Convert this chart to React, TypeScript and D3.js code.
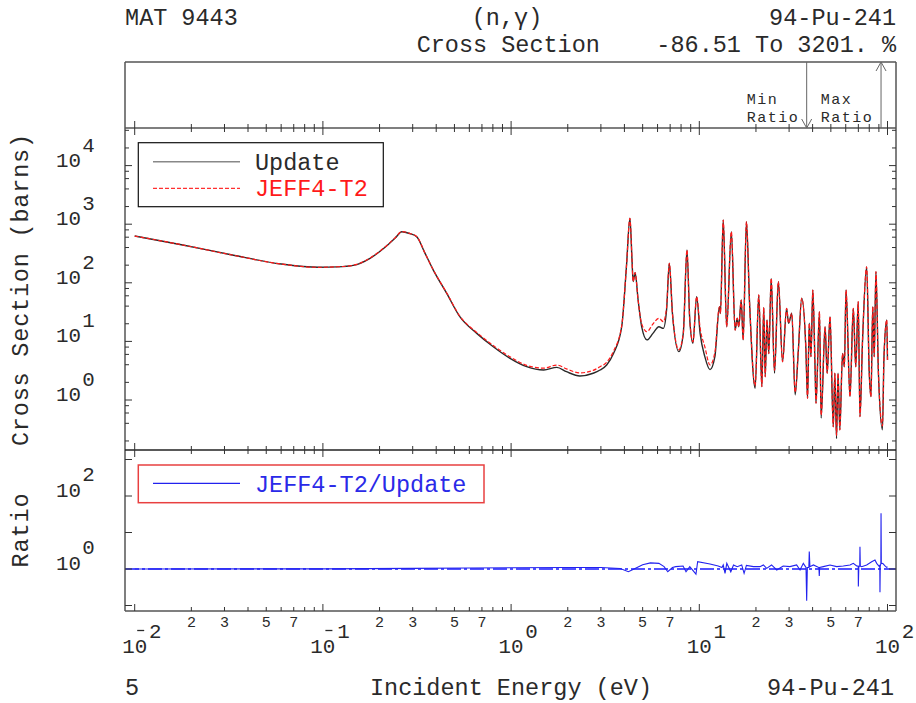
import React from 'react';
import * as d3 from 'd3';

// ---------- data ----------
const energy = [
  0.01, 0.018, 0.033, 0.06, 0.095, 0.12, 0.145, 0.178, 0.214, 0.242, 0.263, 0.29, 0.315, 0.349, 0.386, 0.455, 0.534, 0.657, 0.804, 0.987,
  1.21, 1.49, 1.75, 1.97, 2.32, 2.73, 2.97, 3.22, 3.5, 3.87, 4.1, 4.28, 4.39, 4.45, 4.56, 4.73, 4.94,
  5.27, 5.67, 6.1, 6.44, 6.7, 6.93, 7.2, 7.79, 8.22, 8.6, 8.9, 9.25, 9.68, 10.1, 10.7, 11.4, 12.1, 12.8, 12.95,
  13.4, 13.98, 14.8, 15.5, 15.9, 16.2, 16.7, 17.1, 17.8, 18.5, 19.8, 20.7, 21.5, 22.0, 22.4, 22.9, 23.4, 24.1,
  25.1, 26.3, 27.7, 29.1, 29.8, 31.0, 32.3, 33.6, 35.0, 36.8, 37.6, 38.4, 39.2, 40.1, 41.2, 41.7, 43.5, 44.4,
  46.6, 47.8, 49.5, 51.5, 52.5, 53.6, 54.6, 55.8, 57.7, 59.0, 60.2, 63.2, 65.8, 67.8, 69.9, 71.4, 73.7, 77.5,
  80.0, 81.7, 83.5, 85.0, 86.8, 89.5, 94.0, 95.8, 99.1, 100,
];
const update = [
  628, 442, 298, 209, 184, 187, 198, 262, 405, 580, 745, 690, 612, 318, 165, 66, 26.4, 13.7, 8.1, 5.14,
  3.7, 3.25, 3.61, 3.04, 2.57, 2.86, 3.25, 3.96, 6.2, 17.8, 188, 1260, 245, 105, 149, 50.9, 17.8,
  10.6, 13.7, 17.8, 16.7, 34.3, 215, 30, 6.7, 13.7, 363, 23.2, 9.3, 58, 13.7, 5.5, 3.3, 5.5, 39, 30,
  1178, 17.8, 745, 15.6, 24.8, 17.8, 50.9, 10.6, 1104, 44.7, 1.58, 62, 1.69, 38, 2.5, 23.2, 6.2, 119,
  2.86, 105, 4.5, 36.6, 20.4, 30.2, 1.22, 7.1, 54.4, 8.1, 1.07, 20.4, 5.5, 75.4, 3.7, 0.88, 32.1, 0.49,
  17.8, 2.86, 26.4, 0.35, 2.86, 0.22, 2.86, 0.31, 6.2, 3.7, 75.4, 1.14, 36.6, 3.7, 47.6, 0.52, 10.6, 188,
  2.86, 1.14, 39, 5.5, 155, 2.86, 0.31, 5.5, 23.2, 4.8,
];
const jeff = [
  628, 442, 298, 209, 184, 188, 199, 264, 409, 585, 750, 695, 616, 320, 166, 67, 27, 14.2, 8.5, 5.45,
  3.9, 3.5, 3.95, 3.4, 2.9, 3.2, 3.7, 4.4, 6.8, 18.5, 188, 1260, 245, 105, 149, 50.9, 20,
  14.6, 19.8, 24.8, 21.7, 38, 215, 30, 7.2, 13.7, 363, 23.2, 9.8, 58, 17, 8.1, 3.96, 6.5, 39, 30,
  1178, 17.8, 745, 15.6, 24.8, 17.8, 50.9, 10.6, 1104, 44.7, 1.75, 62, 1.69, 38, 2.5, 23.2, 6.2, 119,
  3.2, 105, 4.5, 36.6, 20.4, 30.2, 1.35, 7.1, 54.4, 8.1, 1.07, 20.4, 5.5, 75.4, 3.7, 0.88, 32.1, 0.55,
  17.8, 2.86, 26.4, 0.35, 2.86, 0.25, 2.86, 0.31, 6.2, 3.7, 75.4, 1.14, 36.6, 3.7, 47.6, 0.52, 10.6, 188,
  2.86, 1.14, 39, 5.5, 155, 2.86, 0.36, 5.5, 23.2, 4.8,
];
const ratioEnergy = [
  0.01, 0.1, 0.3, 0.6, 1.0, 2.0, 3.0, 3.8, 4.2, 4.5, 5.0, 5.5, 6.1, 6.5, 6.8, 7.2, 7.5, 8.2, 8.5, 8.9, 9.6, 9.8,
  11.4, 12.6, 13.2, 13.4, 13.7, 14.0, 14.7, 15.2, 15.9, 16.8, 17.3, 17.8, 19.4, 21.0, 21.9, 22.8, 24.2, 25.8,
  27.9, 30.3, 32.9, 34.3, 35.7, 36.9, 37.2, 37.5, 38.2, 38.4, 38.7, 40.4, 43.2, 43.4, 43.6, 45.6, 49.5, 53.7,
  58.2, 63.2, 65.8, 68.6, 69.9, 70.0, 70.4, 71.2, 71.4, 71.7, 72.9, 77.5, 82.4, 85.8, 87.6, 90.5, 91.0, 91.2,
  91.5, 92.2, 92.4, 92.7, 94.3, 97.0, 99.0, 100,
];
const ratio = [
  1.0, 1.01, 1.04, 1.07, 1.08, 1.1, 1.1, 1.03, 0.84, 1.0, 1.3, 1.47, 1.43, 1.16, 0.84, 1.1, 1.16, 1.21, 0.84, 1.16, 0.72, 1.58,
  1.37, 1.21, 1.1, 1.29, 0.76, 1.43, 0.84, 1.29, 1.16, 1.29, 0.76, 1.25, 1.16, 1.16, 1.29, 1.04, 1.29, 0.94,
  1.21, 1.16, 1.29, 0.94, 1.43, 1.1, 0.135, 1.1, 1.1, 3.0, 1.16, 1.29, 1.1, 0.64, 1.1, 1.16, 1.29, 1.16,
  1.21, 1.29, 1.43, 1.21, 1.2, 0.33, 1.16, 1.2, 4.08, 1.2, 1.16, 1.29, 1.58, 1.76, 1.43, 1.16, 1.3, 0.23,
  1.2, 1.4, 33.5, 1.4, 1.43, 1.21, 1.11, 1.15,
];
const minRatioEnergy = 37.2;
const maxRatioEnergy = 92.4;

const xDecades = [-2, -1, 0, 1, 2];
const xMinorLabels = [2, 3, 5, 7];
const mainYLabelExps = [0, 1, 2, 3, 4];
const ratioYLabelExps = [0, 2];
const seriesNames = ['Update', 'JEFF4-T2'];
const ratioName = 'JEFF4-T2/Update';
const headerLeft = 'MAT 9443';
const headerMid = '(n,γ)';
const headerRight = '94-Pu-241';
const headerLine2 = 'Cross Section    -86.51 To 3201. %';
const footerLeft = '5';
const xTitle = 'Incident Energy (eV)';
const yTitle = 'Cross Section (barns)';
const yRatioTitle = 'Ratio';

// ---------- layout ----------
const W = 916, H = 703;
const L = 125, R = 896;
const topT = 62, mainT = 128, mainB = 450, ratB = 611;
const FONT = "Liberation Mono, DejaVu Sans Mono, monospace";
const INK = '#2a2a2a';
const FRAME = '#555';

const x = d3.scaleLog().domain([0.01, 100]).range([134.7, 887.5]);
const yMain = d3.scaleLog().domain([1, 1e4]).range([400, 165.6]);
const yRat = d3.scaleLog().domain([1, 100]).range([569, 496]);

function Mono({ x0, y0, text, pitch = 14.1, anchor = 'start', size, fill = INK }: any) {
  const chars = Array.from(text as string);
  const total = chars.length * pitch;
  const start = anchor === 'start' ? x0 : anchor === 'end' ? x0 - total : x0 - total / 2;
  const xs = chars.map((_, i) => (start + pitch * (i + 0.5)).toFixed(1)).join(' ');
  const fs = size ?? pitch / 0.6;
  return (
    <text x={xs} y={y0} textAnchor="middle" fontSize={fs} fill={fill} fontFamily={FONT}
      xmlSpace="preserve" style={{ whiteSpace: 'pre' }}>{text}</text>
  );
}

function xTickValues() {
  const out: { v: number; major: boolean }[] = [];
  for (let d = -2; d < 2; d++) {
    for (let m = 1; m <= 9; m++) out.push({ v: m * Math.pow(10, d), major: m === 1 });
  }
  out.push({ v: 100, major: true });
  return out;
}

function mainYTickValues() {
  const out: { v: number; major: boolean }[] = [];
  for (let d = -1; d <= 4; d++) {
    out.push({ v: Math.pow(10, d), major: true });
    for (const m of [2, 4, 6, 8]) out.push({ v: m * Math.pow(10, d), major: false });
  }
  return out.filter(t => yMain(t.v) > mainT + 1 && yMain(t.v) < mainB - 1);
}

export default function App() {
  const ptsU = energy.map((e, i) => [e, update[i]] as [number, number]);
  const ptsJ = energy.map((e, i) => [e, jeff[i]] as [number, number]);
  const ptsR = ratioEnergy.map((e, i) => [e, ratio[i]] as [number, number]);
  const lineMain = d3.line<[number, number]>().x(d => x(d[0])).y(d => yMain(d[1])).curve(d3.curveMonotoneX);
  const lineRat = d3.line<[number, number]>().x(d => x(d[0])).y(d => yRat(d[1]));
  const xt = xTickValues();
  const yt = mainYTickValues();
  const rt = [-1, 0, 1, 2, 3].map(e => Math.pow(10, e));
  const xMin = x(minRatioEnergy), xMax = x(maxRatioEnergy);

  return (
    <svg width={W} height={H} style={{ position: 'absolute', left: 0, top: 0, background: '#fff' }}>
      <defs>
        <clipPath id="cm"><rect x={L} y={mainT} width={R - L} height={mainB - mainT} /></clipPath>
        <clipPath id="cr"><rect x={L} y={mainB} width={R - L} height={ratB - mainB} /></clipPath>
      </defs>
      <rect x={0} y={0} width={W} height={H} fill="#fff" />

      {/* header */}
      <Mono x0={L} y0={25} text={headerLeft} />
      <Mono x0={507} y0={25} text={headerMid} anchor="middle" />
      <Mono x0={R} y0={25} text={headerRight} anchor="end" />
      <Mono x0={R} y0={52} text={headerLine2} anchor="end" />

      {/* curves */}
      <g clipPath="url(#cm)">
        <path d={lineMain(ptsU) || ''} fill="none" stroke="#2a2a2a" strokeWidth={1.4} />
        <path d={lineMain(ptsJ) || ''} fill="none" stroke="#ff1a1a" strokeWidth={1.2} strokeDasharray="4 2" />
      </g>
      <g clipPath="url(#cr)">
        <line x1={L} x2={R} y1={yRat(1)} y2={yRat(1)} stroke="#1a1aff" strokeWidth={1.3} strokeDasharray="14 3 3 3" />
        <path d={lineRat(ptsR) || ''} fill="none" stroke="#2222ee" strokeWidth={1.1} />
      </g>

      {/* frame */}
      <g stroke={FRAME} strokeWidth={1.5} fill="none">
        <line x1={L} x2={L} y1={topT} y2={ratB} />
        <line x1={R} x2={R} y1={topT} y2={ratB} />
        <line x1={L} x2={R} y1={topT} y2={topT} />
        <line x1={L} x2={R} y1={mainT} y2={mainT} />
        <line x1={L} x2={R} y1={mainB} y2={mainB} stroke="#222" />
        <line x1={L} x2={R} y1={ratB} y2={ratB} />
      </g>

      {/* x ticks */}
      <g stroke="#333" strokeWidth={1}>
        {xt.map((t, i) => {
          const px = x(t.v);
          const len = t.major ? 7 : 4;
          return (
            <g key={i}>
              <line x1={px} x2={px} y1={mainT - len} y2={mainT + len} />
              <line x1={px} x2={px} y1={mainB - len} y2={mainB + len} />
              <line x1={px} x2={px} y1={ratB - len} y2={ratB} />
            </g>
          );
        })}
      </g>

      {/* y ticks */}
      <g stroke="#333" strokeWidth={1}>
        {yt.map((t, i) => {
          const py = yMain(t.v);
          const len = t.major ? 7 : 4;
          return (
            <g key={i}>
              <line x1={L} x2={L + len} y1={py} y2={py} />
              <line x1={R - len} x2={R} y1={py} y2={py} />
            </g>
          );
        })}
        {rt.map((v, i) => {
          const py = yRat(v);
          return (
            <g key={'r' + i}>
              <line x1={L} x2={L + 7} y1={py} y2={py} />
              <line x1={R - 7} x2={R} y1={py} y2={py} />
            </g>
          );
        })}
      </g>

      {/* x tick labels */}
      {xDecades.map(d => {
        const px = x(Math.pow(10, d));
        const exp = String(Math.abs(d));
        return (
          <g key={d}>
            <Mono x0={px} y0={653} text="10" pitch={12.5} anchor="middle" />
            {d < 0 && <line x1={px + 2.5} x2={px + 9.5} y1={630.5} y2={630.5} stroke={INK} strokeWidth={1.3} />}
            <Mono x0={px + 20.5} y0={638} text={exp} pitch={12.5} anchor="middle" />
          </g>
        );
      })}
      {[-2, -1, 0, 1].map(d =>
        xMinorLabels.map(m => (
          <Mono key={d + '_' + m} x0={x(m * Math.pow(10, d))} y0={627} text={String(m)} pitch={9} anchor="middle" size={15} />
        ))
      )}

      {/* y tick labels */}
      {mainYLabelExps.map(e => {
        const py = yMain(Math.pow(10, e));
        return (
          <g key={e}>
            <Mono x0={81} y0={py + 1} text="10" pitch={12.5} anchor="end" />
            <Mono x0={88.5} y0={py - 14} text={String(e)} pitch={12.5} anchor="middle" />
          </g>
        );
      })}
      {ratioYLabelExps.map(e => {
        const py = yRat(Math.pow(10, e));
        return (
          <g key={'r' + e}>
            <Mono x0={81} y0={py + 0.5} text="10" pitch={12.5} anchor="end" />
            <Mono x0={88.5} y0={py - 15} text={String(e)} pitch={12.5} anchor="middle" />
          </g>
        );
      })}

      {/* axis titles */}
      <g transform="translate(28.3,290) rotate(-90)">
        <Mono x0={0} y0={0} text={yTitle} pitch={14.9} anchor="middle" size={23.5} />
      </g>
      <g transform="translate(28.3,530.5) rotate(-90)">
        <Mono x0={0} y0={0} text={yRatioTitle} pitch={15} anchor="middle" size={23.5} />
      </g>
      <Mono x0={L} y0={695} text={footerLeft} />
      <Mono x0={370} y0={695} text={xTitle} />
      <Mono x0={894} y0={695} text={headerRight} anchor="end" />

      {/* min / max ratio markers */}
      <g stroke="#666" strokeWidth={1} fill="none">
        <line x1={xMin} x2={xMin} y1={topT} y2={mainT} />
        <polyline points={`${xMin - 5},${mainT - 9} ${xMin},${mainT} ${xMin + 5},${mainT - 9}`} />
        <line x1={xMax} x2={xMax} y1={mainT} y2={topT} />
        <polyline points={`${xMax - 5},${topT + 9} ${xMax},${topT} ${xMax + 5},${topT + 9}`} />
      </g>
      <Mono x0={746} y0={104} text="Min" pitch={10.5} size={15} />
      <Mono x0={746} y0={122} text="Ratio" pitch={10.5} size={15} />
      <Mono x0={820} y0={104} text="Max" pitch={10.5} size={15} />
      <Mono x0={820} y0={122} text="Ratio" pitch={10.5} size={15} />

      {/* main legend */}
      <rect x={138.3} y={142.7} width={245} height={64} fill="#fff" stroke="#111" strokeWidth={1.2} />
      <line x1={153} x2={240} y1={161.7} y2={161.7} stroke="#888" strokeWidth={1.5} />
      <Mono x0={255} y0={169.5} text={seriesNames[0]} />
      <line x1={153} x2={240} y1={188.3} y2={188.3} stroke="#ff3030" strokeWidth={1.2} strokeDasharray="4 2" />
      <Mono x0={255} y0={196} text={seriesNames[1]} fill="#ff1a1a" />

      {/* ratio legend */}
      <rect x={138.3} y={465} width={345.7} height={37.7} fill="#fff" stroke="#e84040" strokeWidth={1.5} />
      <line x1={153} x2={240} y1={483.3} y2={483.3} stroke="#2222ee" strokeWidth={1.2} />
      <Mono x0={255} y0={491.7} text={ratioName} fill="#2a2ae8" />
    </svg>
  );
}
